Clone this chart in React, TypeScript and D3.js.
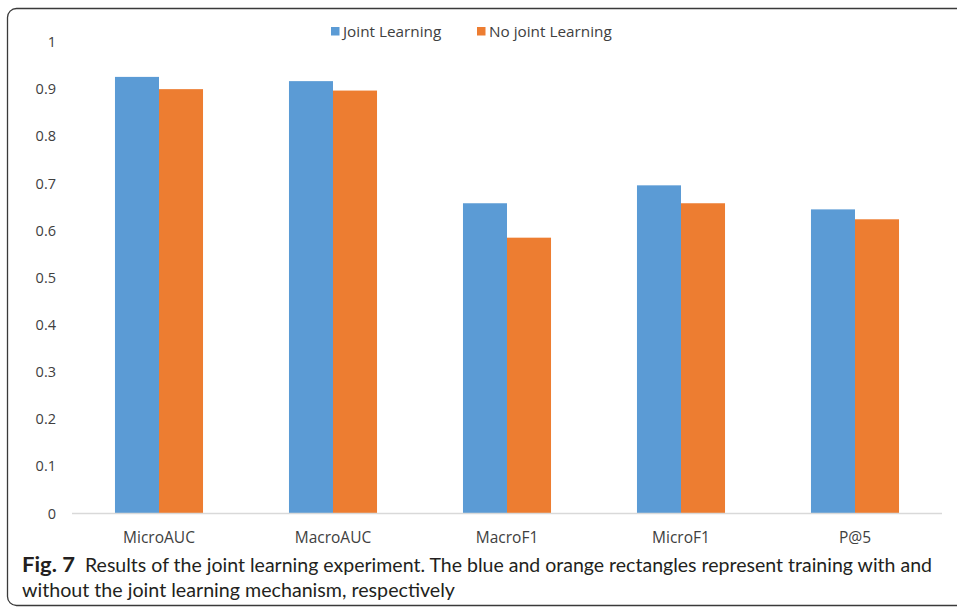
import * as d3 from "d3";

const categories = ["MicroAUC", "MacroAUC", "MacroF1", "MicroF1", "P@5"];
const series = ["Joint Learning", "No joint Learning"];
const jointLearning = [0.926, 0.917, 0.658, 0.696, 0.645];
const noJointLearning = [0.9, 0.897, 0.585, 0.658, 0.624];
const yTicks = [0, 0.1, 0.2, 0.3, 0.4, 0.5, 0.6, 0.7, 0.8, 0.9, 1];
const colors = ["#5b9bd5", "#ed7d31"];

const W = 957;
const H = 609;
const font = "'Open Sans', 'Noto Sans', sans-serif";
const capFont = "Lato, 'Open Sans', sans-serif";

export default function App() {
  const x = d3
    .scaleBand()
    .domain(categories)
    .range([72, 942])
    .paddingInner(0.494)
    .paddingOuter(0.247);
  const xs = d3.scaleBand().domain(series).range([0, x.bandwidth()]);
  const y = d3.scaleLinear().domain([0, 1]).range([513.5, 42]);

  const values = [jointLearning, noJointLearning];

  return (
    <svg
      width={W}
      height={H}
      style={{ position: "absolute", left: 0, top: 0, background: "#fff" }}
    >
      <rect x={7.5} y={8.5} width={980} height={597} rx={9} fill="none" stroke="#3a3a3a" strokeWidth={1.3} />

      {/* y tick labels */}
      {yTicks.map((t) => (
        <text
          key={t}
          x={56}
          y={y(t)}
          dy="0.35em"
          textAnchor="end"
          fontFamily={font}
          fontSize={14.5}
          fill="#404040"
        >
          {d3.format("~g")(t)}
        </text>
      ))}

      {/* bars */}
      {series.map((s, si) =>
        categories.map((c, ci) => (
          <rect
            key={s + c}
            x={(x(c) ?? 0) + (xs(s) ?? 0)}
            y={y(values[si][ci])}
            width={xs.bandwidth()}
            height={y(0) - y(values[si][ci])}
            fill={colors[si]}
          />
        ))
      )}

      <line x1={72} x2={942} y1={y(0)} y2={y(0)} stroke="#d9d9d9" strokeWidth={1.3} />

      {/* category labels */}
      {categories.map((c) => (
        <text
          key={c}
          x={(x(c) ?? 0) + x.bandwidth() / 2}
          y={543}
          textAnchor="middle"
          fontFamily={font}
          fontSize={15.5}
          fill="#404040"
        >
          {c}
        </text>
      ))}

      {/* legend */}
      {series.map((s, i) => {
        const lx = [331, 477][i];
        return (
          <g key={s}>
            <rect x={lx} y={27} width={8.5} height={8.5} fill={colors[i]} />
            <text x={lx + 12} y={37} fontFamily={font} fontSize={15.3} fill="#404040">
              {s}
            </text>
          </g>
        );
      })}

      {/* caption */}
      <text x={22} y={572} fontFamily={capFont} fontSize={20} fontWeight={700} fill="#231f20" textLength={53} lengthAdjust="spacingAndGlyphs">
        Fig. 7
      </text>
      <text x={85} y={572} fontFamily={capFont} fontSize={19.5} fill="#231f20" textLength={847} lengthAdjust="spacingAndGlyphs">
        Results of the joint learning experiment. The blue and orange rectangles represent training with and
      </text>
      <text x={22} y={597} fontFamily={capFont} fontSize={19.5} fill="#231f20" textLength={433} lengthAdjust="spacingAndGlyphs">
        without the joint learning mechanism, respectively
      </text>
    </svg>
  );
}
